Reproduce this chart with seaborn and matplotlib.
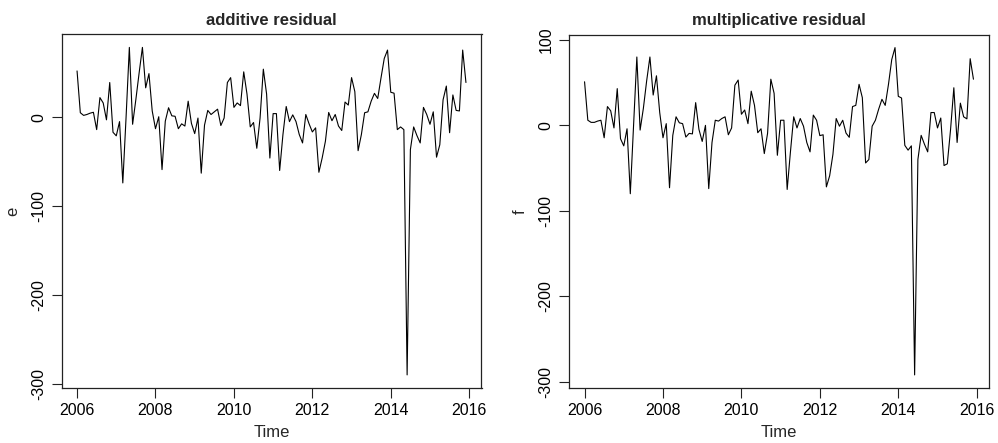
import numpy as np
import pandas as pd
import matplotlib
matplotlib.use("Agg")
import matplotlib.pyplot as plt
import seaborn as sns

start_year = 2006
freq = 12

e_values = [52, 5, 2, 3, 4.5, 5.5, -14, 22, 16, -3,
            39, -17, -21, -5, -74, 0, 78.5, -8, 20, 50,
            78.5, 33, 49, 7, -13, 0.5, -59, -4.5, 10.6, 1.5,
            1, -13, -7.5, -10, 18, -7, -18.5, -1, -63, -9,
            7.6, 3, 6, 9, -9.4, -1, 39, 44.5, 11, 16,
            13, 51, 26, -11, -6, -35, -1, 54, 26, -46,
            4, 4, -60, -19.6, 12, -5, 2.6, -5, -19.6, -29,
            3, -7.5, -16.6, -12, -62, -46, -27, 5.3, -4, 3,
            -10, -15, 17, 13.6, 44.5, 28.7, -37.7, -19.6, 5, 6,
            18, 26.8, 21, 44, 66, 75.5, 28, 27, -14, -11,
            -14, -290, -36.5, -11, -20.7, -29, 11, 3, -8, 6,
            -45, -31, 19.5, 35, -17.5, 25, 7.6, 7, 75.5, 39]

f_values = [51, 6, 3.5, 3.5, 5, 6, -14.5, 22, 17, -3,
            43, -15.6, -24, -4, -80, 0, 80, -5.5, 20, 52,
            80, 35.5, 58, 15, -14.5, 2, -73, -11.7, 10, 3,
            2, -13.7, -9.4, -10, 26.6, -4.7, -18.8, 0, -74, -20,
            6, 5, 8, 10, -11, -3, 47, 53, 13, 18,
            2, 40, 23.4, -8.6, -4, -33, -9.4, 54, 37.5, -35,
            6, 6, -75, -31, 10, -3, 8, -1, -20, -31,
            12, 6, -12, -11, -72, -59, -34, 8, -1, 6,
            -9, -14, 22, 23.4, 48, 32.4, -44, -40, -1, 6,
            19, 30.5, 23.4, 48, 77, 91, 34, 32, -23.4, -29,
            -24, -292, -40, -11.7, -22, -31, 15, 15, -3, 8.6,
            -47, -45, -4.7, 44, -20, 26, 10, 7.6, 78, 54]

x_ticks = [2006, 2008, 2010, 2012, 2014, 2016]
e_ticks = [-300, -200, -100, 0]
f_ticks = [-300, -200, -100, 0, 100]
titles = ["additive residual", "multiplicative residual"]
ylabels = ["e", "f"]

time = start_year + np.arange(len(e_values)) / freq
df = pd.DataFrame({"Time": time, "e": e_values, "f": f_values})

sns.set_theme(style="ticks")
plt.rcParams["font.family"] = ["Liberation Sans", "DejaVu Sans"]

W, H = 998, 443
fig = plt.figure(figsize=(W / 100, H / 100), dpi=100)

def rect(l, r, t, b):
    return [l / W, 1 - b / H, (r - l) / W, (b - t) / H]

axes = [fig.add_axes(rect(61.5, 481.5, 34.3, 388)),
        fig.add_axes(rect(569, 989, 34.5, 388))]

for ax, col, title, yl, yt in zip(axes, ["e", "f"], titles, ylabels, [e_ticks, f_ticks]):
    sns.lineplot(data=df, x="Time", y=col, ax=ax, color="black", linewidth=0.8)
    ax.margins(x=0.04, y=0.04)
    ax.set_xticks(x_ticks)
    ax.set_yticks(yt)
    ax.set_yticklabels([str(v) for v in yt], rotation=90, va="center")
    ax.minorticks_off()
    ax.tick_params(axis="both", labelsize=11.5, length=7, width=0.8, color="#222222",
                   direction="out", pad=4, labelcolor="black")
    ax.tick_params(top=False, right=False)
    for s in ax.spines.values():
        s.set_visible(True)
        s.set_linewidth(0.9)
        s.set_color("#222222")
    ax.set_xlabel("Time", fontsize=12, labelpad=5)
    ax.set_ylabel(yl, fontsize=12, labelpad=8)
    ax.set_title(title, fontsize=12, fontweight="bold", pad=7)

fig.savefig("out.png", dpi=100)
